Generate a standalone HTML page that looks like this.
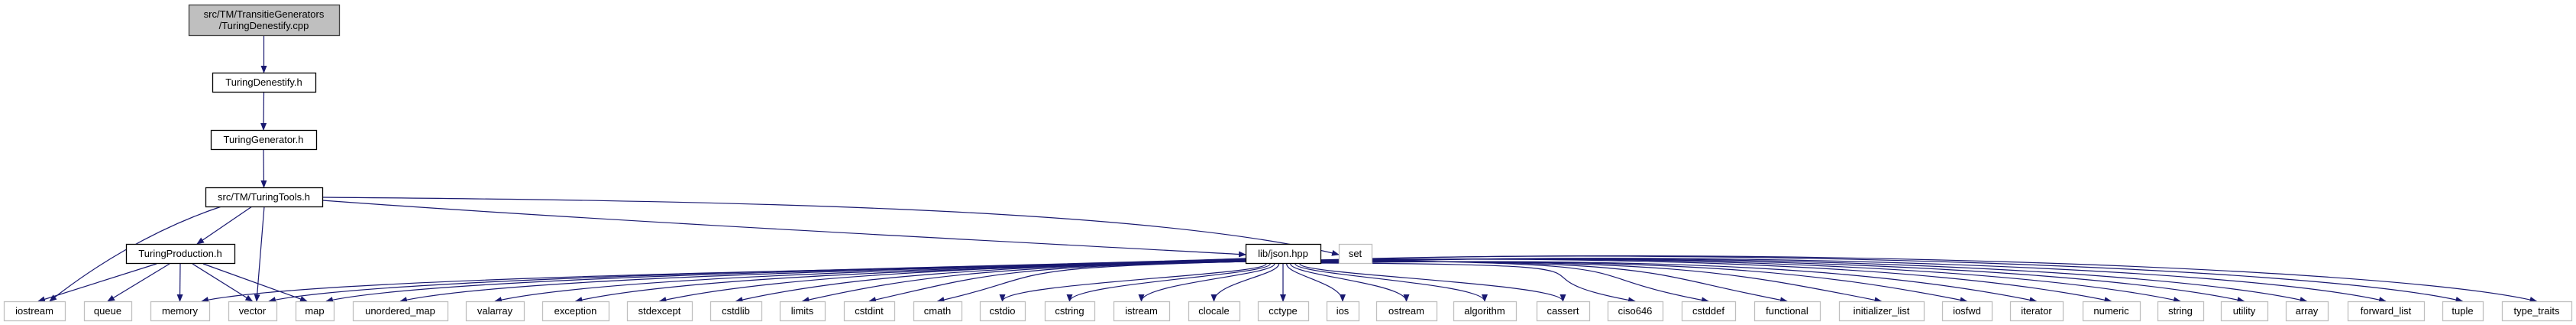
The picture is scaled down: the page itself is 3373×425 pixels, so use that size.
<!DOCTYPE html>
<html><head><meta charset="utf-8"><style>
html,body{margin:0;padding:0;background:#fff;width:3373px;height:425px;overflow:hidden}
svg text{font-family:"Liberation Sans",sans-serif;font-size:13px;text-anchor:middle}
</style></head><body>
<svg id="g" width="3373" height="425" viewBox="0 0 3373 425" xmlns="http://www.w3.org/2000/svg">
<defs><marker id="ah" markerWidth="10" markerHeight="8" refX="9" refY="4" orient="auto" markerUnits="userSpaceOnUse"><path d="M0,0 L10,4 L0,8 z" fill="#191970"/></marker></defs>
<g id="edges"></g><g id="nodes"></g>
</svg>
<script>
const nodeNames = ["TuringDenestify.cpp","TuringDenestify.h","TuringGenerator.h","TuringTools.h","TuringProduction.h","lib/json.hpp","set",
"iostream","queue","memory","vector","map","unordered_map","valarray","exception","stdexcept","cstdlib","limits","cstdint","cmath","cstdio","cstring","istream","clocale","cctype","ios","ostream","algorithm","cassert","ciso646","cstddef","functional","initializer_list","iosfwd","iterator","numeric","string","utility","array","forward_list","tuple","type_traits"];
const nodeLabels = [["src/TM/TransitieGenerators","/TuringDenestify.cpp"],["TuringDenestify.h"],["TuringGenerator.h"],["src/TM/TuringTools.h"],["TuringProduction.h"],["lib/json.hpp"],["set"]];
const boxX1 = [247,278,276,269,165,1631,1753, 5,110,197,299,387,462,610,710,821,930,1021,1105,1196,1283,1368,1458,1556,1647,1737,1802,1903,2012,2105,2202,2297,2408,2543,2632,2727,2825,2908,2993,3074,3198,3276];
const boxX2 = [444,413,414,422,307,1729,1796, 85,172,274,362,437,586,686,797,906,997,1080,1171,1259,1342,1433,1531,1623,1713,1779,1881,1985,2081,2177,2272,2383,2519,2608,2701,2802,2885,2969,3048,3174,3251,3367];
const boxY1 = [6,95,170,245,319,319,319];
const edgesFrom = [0,1,2,3,3,3,3,3,4,4,4,4,4];
const edgesTo   = [1,2,3,7,4,10,5,6,7,8,9,10,11];
const S="http://www.w3.org/2000/svg";
const E=document.getElementById('edges'),N=document.getElementById('nodes');
function y1(i){return i<7?boxY1[i]:394;}
function y2(i){return i===0?46:(i<7?y1(i)+25:419);}
function cx(i){return (boxX1[i]+boxX2[i])/2;}
for(let i=0;i<nodeNames.length;i++){
  const g=document.createElementNS(S,'g');
  
  
  const r=document.createElementNS(S,'rect');
  r.setAttribute('x',boxX1[i]+0.5);r.setAttribute('y',y1(i)+0.5);
  r.setAttribute('width',boxX2[i]-boxX1[i]);r.setAttribute('height',y2(i)-y1(i));
  r.setAttribute('fill',i===0?'#bfbfbf':'#fff');
  r.setAttribute('stroke',i===0?'#404040':(i<6?'#000':'#bfbfbf'));
  r.setAttribute('stroke-width',i<6?'1.3':'1.3');
  g.appendChild(r);
  const lab=i<7?nodeLabels[i]:[nodeNames[i]];
  lab.forEach((t,k)=>{const tx=document.createElementNS(S,'text');
    tx.setAttribute('x',cx(i));
    tx.setAttribute('y',lab.length>1?(y1(i)+17+k*15):(y1(i)+17));
    tx.textContent=t;g.appendChild(tx);});
  N.appendChild(g);
}
function edge(d,name){const p=document.createElementNS(S,'path');
  p.setAttribute('d',d);p.setAttribute('fill','none');p.setAttribute('stroke','#191970');
  p.setAttribute('stroke-width','1.2');p.setAttribute('marker-end','url(#ah)');
  E.appendChild(p);}
for(let k=0;k<edgesFrom.length;k++){
  const a=edgesFrom[k],b=edgesTo[k];
  let sx=cx(a),sy=y2(a),tx=cx(b),ty=y1(b);
  let d;
  if(a===3&&b===5){d=`M422,262 C800,290 1400,320 1631,333`;}
  else if(a===3&&b===6){d=`M422,258 C900,262 1500,270 1753,333`;}
  else if(a===3&&b===7){d=`M290,270 C200,300 120,350 65,394`;}
  else if(a===3&&b===10){d=`M346,270 L336,394`;}
  else if(a===3&&b===4){d=`M330,270 L258,319`;}
  else if(a===4){const s=[205,222,236,252,266][b-7];d=`M${s},345 L${tx+(b===7?5:b===11?-10:0)},${ty}`;}
  else d=`M${sx},${sy} L${tx},${ty}`;
  edge(d,'edge-'+nodeNames[a].replace(/[^a-z0-9]+/gi,'-').toLowerCase()+'-to-'+nodeNames[b].replace(/[^a-z0-9]+/gi,'-').toLowerCase());
}
// json.hpp -> standard headers
for(let b=9;b<nodeNames.length;b++){
  let tx=cx(b),ty=394;
  let sx=Math.max(1640,Math.min(1720,1680+(tx-1680)*0.06));
  let d;
  if(Math.abs(tx-1680)<400){d=`M${sx},345 C${sx},360 ${tx},370 ${tx},${ty}`;}
  else if(tx<1680){const tp=b<=11?boxX2[b]-10:tx;d=`M1632,${338+(b%5)} C1300,350 ${tp+150},360 ${tp},${ty}`;}
  else {d=`M1728,${340+(b%5)} C2200,${350-(b-27)*2} ${tx-200},${360-(b-27)} ${tx},${ty}`;}
  const path=document.createElementNS(S,'path');
  path.setAttribute('d',d);path.setAttribute('fill','none');path.setAttribute('stroke','#191970');
  path.setAttribute('stroke-width','1.2');path.setAttribute('marker-end','url(#ah)');
  
  
  E.appendChild(path);
}
</script>
</body></html>
